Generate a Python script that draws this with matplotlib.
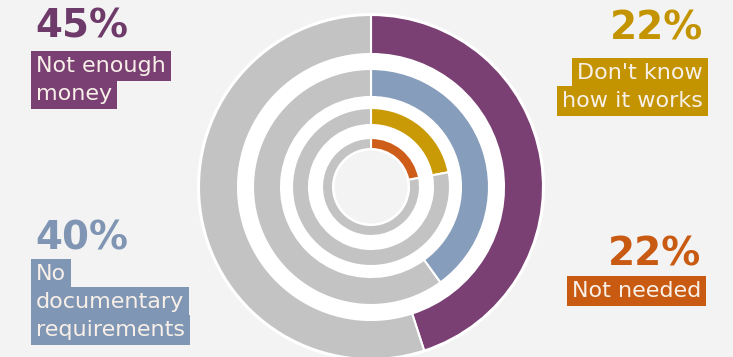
import matplotlib.pyplot as plt
from matplotlib.patches import Circle

# survey answers, one ring each (outer to inner)
reasons = ['Not enough money', 'No documentary requirements',
           "Don't know how it works", 'Not needed']
shares = [45, 40, 22, 22]
ring_colors = ['#7a3f73', '#869dbb', '#c99a06', '#cf5d1a']
label_lines = [['Not enough', 'money'],
               ['No', 'documentary', 'requirements'],
               ["Don't know", 'how it works'],
               ['Not needed']]

bg = '#f3f3f3'
rest = '#c3c3c3'
W, H = 733, 357

fig = plt.figure(figsize=(W / 100, H / 100), dpi=100, facecolor=bg)
ax = fig.add_axes([0, 0, 1, 1])
ax.set_facecolor(bg)

cx, cy = 371, H - 187
# ring (outer radius, width), outermost first
rings = [(172, 39), (118, 28), (79, 17), (49, 11)]

ax.add_patch(Circle((cx, cy), 174, facecolor='white', edgecolor='none', zorder=0))
ax.add_patch(Circle((cx, cy), 36.5, facecolor=bg, edgecolor='none', zorder=3))

for (r, w), share, col in zip(rings, shares, ring_colors):
    ax.pie([share, 100 - share], colors=[col, rest], radius=r, center=(cx, cy),
           startangle=90, counterclock=False, frame=True,
           wedgeprops=dict(width=w, edgecolor='white', linewidth=1.5))

ax.set_xlim(0, W)
ax.set_ylim(0, H)
ax.set_aspect('equal')
ax.axis('off')

# label blocks: (x, big-number baseline, first line centre, alignment)
blocks = [(36, 38, 66, 'left'),
          (36, 250, 274, 'left'),
          (703, 40, 73, 'right'),
          (701, 265, 291, 'right')]
num_colors = ['#6e3a6a', '#7f95b3', '#c39400', '#c85a12']
box_colors = ['#7a3f73', '#8096b5', '#c39400', '#c85a12']
step = 28

for (x, base, first, ha), share, lines, nc, bc in zip(blocks, shares, label_lines,
                                                     num_colors, box_colors):
    ax.text(x - 1 if ha == 'left' else x, H - base, f'{share}%', ha=ha,
            va='baseline', fontsize=28, fontweight='bold', color=nc, zorder=5)
    for i, line in enumerate(lines):
        ax.text(x, H - (first + i * step), line, ha=ha, va='center', fontsize=16,
                color='#f8f0e8', zorder=5 - i * 0.01,
                bbox=dict(boxstyle='square,pad=0.23', facecolor=bc, edgecolor='none'))

fig.savefig('out.png', dpi=100, facecolor=bg)
